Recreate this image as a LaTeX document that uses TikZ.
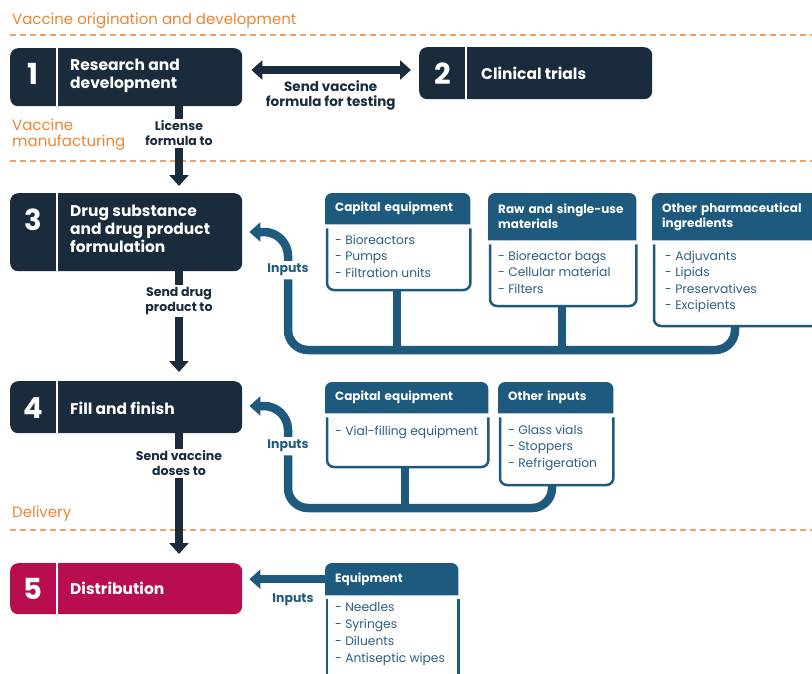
\documentclass[tikz,border=0pt]{standalone}
\usepackage{fontspec}
\setmainfont{Poppins}
\usetikzlibrary{arrows.meta, backgrounds}
\definecolor{navy}{HTML}{1A2B3C}
\definecolor{inblue}{HTML}{1E5A7E}
\definecolor{crimson}{HTML}{B80D4E}
\definecolor{phasecol}{HTML}{EC8434}
\definecolor{itemblue}{HTML}{2D5F80}

\begin{document}
\begin{tikzpicture}[x=1pt, y=1pt,
        stage/.style={rectangle, rounded corners=8pt, fill=navy, minimum width=232pt, anchor=north west, inner sep=0pt},
        stagenum/.style={text=white, font=\fontsize{29}{29}\selectfont\bfseries, inner sep=0pt},
        stagetext/.style={anchor=west, align=left, text=white, font=\fontsize{15.5}{18}\selectfont\bfseries, inner sep=0pt},
        divider/.style={white, line width=2.5pt},
        phase/.style={anchor=west, align=left, text=phasecol, font=\fontsize{15}{16.5}\selectfont, inner sep=0pt},
        phaseline/.style={phasecol!75, line width=1.3pt, dash pattern=on 6pt off 4pt},
        flow/.style={navy, line width=8pt, -{Triangle[length=11pt, width=19pt]}},
        flowlabel/.style={fill=white, align=center, text=navy, font=\fontsize{12.5}{14.5}\selectfont\bfseries, inner sep=2pt},
        inhead/.style={rectangle, anchor=north west, text=white, align=left, font=\fontsize{12}{15}\selectfont\bfseries, inner xsep=10pt, inner ysep=0pt},
        initems/.style={anchor=north west, align=left, text=itemblue, font=\fontsize{12.3}{16.3}\selectfont, inner sep=0pt},
        frame/.style={inblue, line width=2.5pt, rounded corners=7pt},
        bus/.style={inblue, line width=8.5pt, rounded corners=20pt},
        busarrow/.style={inblue, line width=8.5pt, -{Triangle[length=11pt, width=19pt]}, shorten >=7pt},
        inlabel/.style={text=inblue, font=\fontsize{12.5}{14}\selectfont\bfseries, inner sep=3pt}
        ]
        \useasboundingbox (0,0) rectangle (812,-673);
        \clip (0,0) rectangle (812,-673);

        % Phases
        \node (ph1) [phase] at (12,-21) {Vaccine origination and development};
        \node (ph2) [phase] at (12,-135) {Vaccine\\manufacturing};
        \node (ph3) [phase] at (12,-514) {Delivery};
        \draw [phaseline] (10,-35) -- (812,-35);
        \draw [phaseline] (10,-161) -- (812,-161);
        \draw [phaseline] (10,-530) -- (812,-530);

        % Stages
        \node (rd) [stage, minimum height=58pt] at (10,-48) {};
        \node (ct) [stage, minimum height=52pt, minimum width=233pt] at (419,-47) {};
        \node (dsp) [stage, minimum height=78pt] at (10,-193) {};
        \node (ff) [stage, minimum height=52pt] at (10,-381) {};
        \node (dist) [stage, minimum height=51pt, fill=crimson] at (10,-563) {};
        \foreach \s in {rd, ct, dsp, ff, dist}
            \draw [divider] ([xshift=47pt]\s.north west) -- ([xshift=47pt]\s.south west);

        \node (n1) [stagenum] at (33,-74) {1};
        \node (n2) [stagenum] at (443,-74) {2};
        \node (n3) [stagenum] at (33,-220) {3};
        \node (n4) [stagenum] at (33,-408) {4};
        \node (n5) [stagenum] at (33,-589) {5};
        \node (rdtext) [stagetext] at (70,-76) {Research and\\development};
        \node (cttext) [stagetext] at (481,-73) {Clinical trials};
        \node (dsptext) [stagetext] at (70,-229) {Drug substance\\and drug product\\formulation};
        \node (fftext) [stagetext] at (70,-408) {Fill and finish};
        \node (disttext) [stagetext] at (70,-588) {Distribution};

        % Flow between stages
        \coordinate (flowx) at (179,0);
        \draw [flow, {Triangle[length=11pt, width=19pt]}-{Triangle[length=11pt, width=19pt]}, shorten <=9pt, shorten >=8pt]
            (rd.east |- 0,-70) -- node[flowlabel, fill=none, below=5pt, font=\fontsize{13.5}{15}\selectfont\bfseries] (send) {Send vaccine\\formula for testing} (ct.west |- 0,-70);
        \draw [flow, shorten >=7pt] (rd.south -| flowx) -- node[flowlabel, pos=0.31] (lic) {License\\formula to} (dsp.north -| flowx);
        \draw [flow, shorten >=9pt] (dsp.south -| flowx) -- node[flowlabel, pos=0.27] (sdp) {Send drug\\product to} (ff.north -| flowx);
        \draw [flow, shorten >=9pt] (ff.south -| flowx) -- node[flowlabel, pos=0.23] (svd) {Send vaccine\\doses to} (dist.north -| flowx);

        % Inputs to stage 3
        \node (ce1) [inhead, minimum width=145pt, minimum height=31pt, text width=125pt] at (325,-193) {Capital equipment};
        \node (rm) [inhead, minimum width=148pt, minimum height=47pt, text width=128pt] at (488,-193) {Raw and single-use\\materials};
        \node (opi) [inhead, minimum width=178pt, minimum height=47pt, text width=158pt] at (652,-193) {Other pharmaceutical\\ingredients};
        \node (ce1items) [initems] at (335,-235) {- Bioreactors\\- Pumps\\- Filtration units};
        \node (rmitems) [initems] at (498,-251) {- Bioreactor bags\\- Cellular material\\- Filters};
        \node (opiitems) [initems] at (665,-251) {- Adjuvants\\- Lipids\\- Preservatives\\- Excipients};
        \draw [frame] ([shift={(2pt,-4pt)}]ce1.south west) |- (397,-290) coordinate (ce1s) -| ([yshift=-4pt]ce1.south east);
        \draw [frame] ([shift={(2pt,-4pt)}]rm.south west) |- (562,-306) coordinate (rms) -| ([yshift=-4pt]rm.south east);
        \draw [frame] ([shift={(2pt,-4pt)}]opi.south west) |- (735,-326) coordinate (opis) -| ([yshift=-4pt]opi.south east);
        \node (in3) [inlabel] at (288,-270) {Inputs};
        \draw [bus] (ce1s) -- (ce1s |- 0,-350);
        \draw [bus] (rms) -- (rms |- 0,-350);
        \draw [bus] (opis) |- (in3.south |- 0,-350) -- (in3.south);
        \draw [busarrow] (in3.north) -- (288,-256) arc[start angle=0, end angle=90, radius=24] -- (dsp.east |- 0,-232);

        % Inputs to stage 4
        \node (ce2) [inhead, minimum width=163pt, minimum height=31pt, text width=143pt] at (325,-382) {Capital equipment};
        \node (oi) [inhead, minimum width=115pt, minimum height=31pt, text width=95pt] at (498,-382) {Other inputs};
        \node (ce2items) [initems] at (335,-426) {- Vial-filling equipment};
        \node (oiitems) [initems] at (508,-425) {- Glass vials\\- Stoppers\\- Refrigeration};
        \draw [frame] ([shift={(2pt,-4pt)}]ce2.south west) |- (405,-467) coordinate (ce2s) -| ([yshift=-4pt]ce2.south east);
        \draw [frame] ([shift={(2pt,-4pt)}]oi.south west) |- (552,-485) coordinate (ois) -| ([yshift=-4pt]oi.south east);
        \node (in4) [inlabel] at (288,-446) {Inputs};
        \draw [bus] (ce2s) -- (ce2s |- 0,-508);
        \draw [bus] (ois) |- (in4.south |- 0,-508) -- (in4.south);
        \draw [busarrow] (in4.north) -- (288,-430) arc[start angle=0, end angle=90, radius=24] -- (ff.east |- 0,-406);

        % Inputs to stage 5
        \node (eq) [inhead, minimum width=133pt, minimum height=32pt, text width=113pt] at (325,-563) {Equipment};
        \node (eqitems) [initems, font=\fontsize{12.3}{17}\selectfont] at (335,-602) {- Needles\\- Syringes\\- Diluents\\- Antiseptic wipes};
        \draw [frame] ([shift={(2pt,-4pt)}]eq.south west) -- ([shift={(2pt,-4pt)}]eq.south west |- 0,-700);
        \draw [frame] ([yshift=-4pt]eq.south east) -- ([yshift=-4pt]eq.south east |- 0,-700);
        \draw [busarrow] (eq.west) -- (eq.west -| dist.east);
        \node (in5) [inlabel] at (293,-600) {Inputs};

        % Header backgrounds
        \begin{scope}[on background layer]
            \foreach \h in {ce1, rm, opi, ce2, oi, eq}
                \fill [inblue] (\h.south west) [rounded corners=7pt] -- (\h.north west) -- (\h.north east) [sharp corners] -- (\h.south east) -- cycle;
        \end{scope}
    \end{tikzpicture}
\end{document}
